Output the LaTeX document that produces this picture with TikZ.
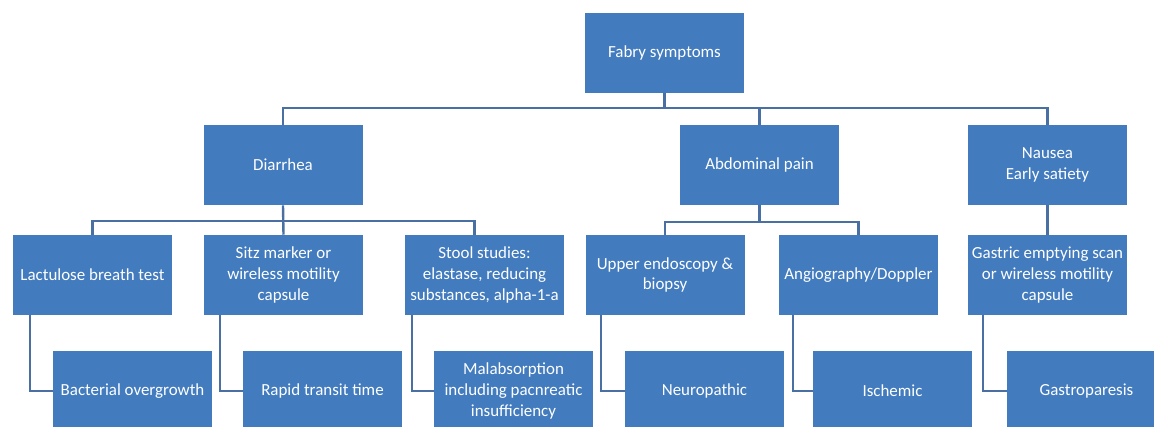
\documentclass[tikz,border=0pt]{standalone}
\usepackage{fontspec}
\setmainfont{Carlito}
\usepackage{tikz}
\definecolor{boxblue}{RGB}{66,123,190}
\definecolor{lineblue}{RGB}{74,112,163}
\tikzset{
  sbox/.style={fill=boxblue,text=white,minimum width=119.25pt,minimum height=60pt,
    inner sep=2pt,align=center,font=\fontsize{12.7}{15.6}\selectfont},
  link/.style={draw=lineblue,line width=1.8pt}
}

\begin{document}
\begin{tikzpicture}[x=0.75pt,y=-0.75pt]
  \clip (0,0) rectangle (1154,426);
  \node[sbox] (fabry) at (664.5,53) {Fabry symptoms};
  \node[sbox] (diarrhea) at (283,165) {Diarrhea};
  \node[sbox] (abdominal) at (759.5,165) {Abdominal pain};
  \node[sbox] (nausea) at (1047.5,165) {Nausea\\Early satiety};
  \node[sbox] (lactulose) at (92.5,275) {Lactulose breath test};
  \node[sbox] (sitz) at (283.5,275) {Sitz marker or\\wireless motility\\capsule};
  \node[sbox] (stool) at (484.5,275) {Stool studies:\\elastase, reducing\\substances, alpha-1-a};
  \node[sbox] (upper) at (665,275) {Upper endoscopy \&\\biopsy};
  \node[sbox] (angio) at (858.5,275) {Angiography/Doppler};
  \node[sbox] (gastric) at (1047.5,275) {Gastric emptying scan\\or wireless motility\\capsule};
  \node[sbox] (bacterial) at (132.5,391) {Bacterial overgrowth};
  \node[sbox] (rapid) at (322.5,391) {Rapid transit time};
  \node[sbox] (malabs) at (513.5,391) {Malabsorption\\including pacnreatic\\insufficiency};
  \node[sbox] (neuro) at (704.5,391) {Neuropathic};
  \node[sbox] (ischemic) at (892.5,391) {Ischemic};
  \node[sbox] (gastro) at (1086.5,391) {Gastroparesis};

  \coordinate (busA) at (0,108);
  \coordinate (busB) at (0,221);
  \coordinate (busC) at (0,222);
  \draw[link] (fabry.south) -- (fabry.south |- busA);
  \draw[link] (diarrhea.north) -- (diarrhea.north |- busA) -- (nausea.north |- busA) -- (nausea.north);
  \draw[link] (abdominal.north) -- (abdominal.north |- busA);

  \draw[link] (diarrhea.south) -- (sitz.north);
  \draw[link] (lactulose.north) -- (lactulose.north |- busB) -- ([xshift=-7.5pt]stool.north |- busB) -- ([xshift=-7.5pt]stool.north);
  \draw[link] (abdominal.south) -- (abdominal.south |- busC);
  \draw[link] (upper.north) -- (upper.north |- busC) -- (angio.north |- busC) -- (angio.north);
  \draw[link] (nausea.south) -- (gastric.north);

  \draw[link] ([xshift=12.75pt]lactulose.south west) |- (bacterial.west);
  \draw[link] ([xshift=12pt]sitz.south west) |- (rapid.west);
  \draw[link] ([xshift=5.25pt]stool.south west) |- (malabs.west);
  \draw[link] ([xshift=12pt]upper.south west) |- (neuro.west);
  \draw[link] ([xshift=10.5pt]angio.south west) |- (ischemic.west);
  \draw[link] ([xshift=11.25pt]gastric.south west) |- (gastro.west);
\end{tikzpicture}
\end{document}
